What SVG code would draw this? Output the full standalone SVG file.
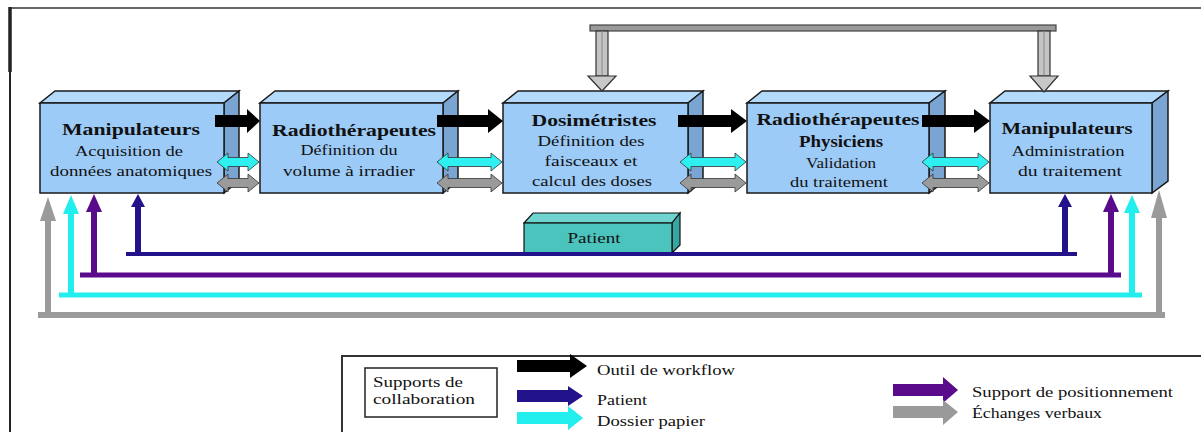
<svg xmlns="http://www.w3.org/2000/svg" width="1201" height="432" viewBox="0 0 1201 432">
<style>
  .front{fill:#9dcbf7;stroke:#1a1a1a;stroke-width:1.5}
  .top{fill:#b3d9fb;stroke:#1a1a1a;stroke-width:1.5}
  .side{fill:#7aa5d3;stroke:#1a1a1a;stroke-width:1.5}
  .t{font-family:"Liberation Serif","Times New Roman",serif;font-size:15px;fill:#111;text-anchor:middle}
  .b{font-weight:bold;font-size:16px}
  .lg{font-family:"Liberation Serif","Times New Roman",serif;font-size:15px;fill:#111}
  .blk{fill:#000}
  .cy{fill:#2ef0f0;stroke:#333;stroke-width:0.8}
  .gr{fill:#9a9a9a;stroke:#333;stroke-width:0.8}
</style>
<rect width="1201" height="432" fill="#fff"/>
<!-- frame -->
<line x1="10" y1="8" x2="1201" y2="8" stroke="#666" stroke-width="2"/>
<line x1="10" y1="8" x2="10" y2="432" stroke="#222" stroke-width="2"/>
<line x1="10" y1="7" x2="10" y2="72" stroke="#222" stroke-width="3.5"/>

<g id="box1">
  <polygon class="top" points="40,103 224,103 239,91 55,91"/>
  <polygon class="side" points="224,103 239,91 239,181 224,193"/>
  <rect class="front" x="40" y="103" width="184" height="90"/>
  <text class="t b" x="131" y="135" textLength="138" lengthAdjust="spacingAndGlyphs">Manipulateurs</text>
  <text class="t" x="129" y="156" textLength="108" lengthAdjust="spacingAndGlyphs">Acquisition de</text>
  <text class="t" x="131" y="176" textLength="162" lengthAdjust="spacingAndGlyphs">données anatomiques</text>
</g>
<g id="box2">
  <polygon class="top" points="260,103 443,103 458,91 275,91"/>
  <polygon class="side" points="443,103 458,91 458,181 443,193"/>
  <rect class="front" x="260" y="103" width="183" height="90"/>
  <text class="t b" x="354" y="136" textLength="164" lengthAdjust="spacingAndGlyphs">Radiothérapeutes</text>
  <text class="t" x="349" y="155" textLength="97" lengthAdjust="spacingAndGlyphs">Définition du</text>
  <text class="t" x="349" y="176" textLength="132" lengthAdjust="spacingAndGlyphs">volume à irradier</text>
</g>
<g id="box3">
  <polygon class="top" points="503,103 688,103 703,91 518,91"/>
  <polygon class="side" points="688,103 703,91 703,181 688,193"/>
  <rect class="front" x="503" y="103" width="185" height="90"/>
  <text class="t b" x="594" y="126" textLength="125" lengthAdjust="spacingAndGlyphs">Dosimétristes</text>
  <text class="t" x="591" y="146" textLength="107" lengthAdjust="spacingAndGlyphs">Définition des</text>
  <text class="t" x="591" y="166" textLength="93" lengthAdjust="spacingAndGlyphs">faisceaux et</text>
  <text class="t" x="592" y="186" textLength="120" lengthAdjust="spacingAndGlyphs">calcul des doses</text>
</g>
<g id="box4">
  <polygon class="top" points="747,103 929,103 945,91 762,91"/>
  <polygon class="side" points="929,103 945,91 945,181 929,193"/>
  <rect class="front" x="747" y="103" width="182" height="90"/>
  <text class="t b" x="838" y="125" textLength="163" lengthAdjust="spacingAndGlyphs">Radiothérapeutes</text>
  <text class="t b" x="841" y="147" textLength="84" lengthAdjust="spacingAndGlyphs">Physiciens</text>
  <text class="t" x="841" y="168" textLength="70" lengthAdjust="spacingAndGlyphs">Validation</text>
  <text class="t" x="839" y="187" textLength="98" lengthAdjust="spacingAndGlyphs">du traitement</text>
</g>
<g id="box5">
  <polygon class="top" points="990,103 1152,103 1168,91 1005,91"/>
  <polygon class="side" points="1152,103 1168,91 1168,181 1152,193"/>
  <rect class="front" x="990" y="103" width="162" height="90"/>
  <text class="t b" x="1067" y="134" textLength="131" lengthAdjust="spacingAndGlyphs">Manipulateurs</text>
  <text class="t" x="1068" y="156" textLength="113" lengthAdjust="spacingAndGlyphs">Administration</text>
  <text class="t" x="1070" y="176" textLength="104" lengthAdjust="spacingAndGlyphs">du traitement</text>
</g>
<g id="patient">
  <polygon points="524,223 672,223 680,213 533,213" fill="#6fd3cf" stroke="#111" stroke-width="1.2"/>
  <polygon points="672,223 680,213 680,245 672,253" fill="#35a6a2" stroke="#111" stroke-width="1.2"/>
  <rect x="524" y="223" width="148" height="30" fill="#4cc4be" stroke="#111" stroke-width="1.2"/>
  <text class="t" x="594" y="243" textLength="53" lengthAdjust="spacingAndGlyphs">Patient</text>
</g>

<g id="connectors">
  <!-- workflow black arrows -->
  <path class="blk" d="M215,115 H247 V109 L260,121 L247,133 V127 H215 Z"/>
  <path class="blk" d="M437,115 H488 V109 L503,121 L488,133 V127 H437 Z"/>
  <path class="blk" d="M678,115 H731 V109 L747,121 L731,133 V127 H678 Z"/>
  <path class="blk" d="M922,115 H974 V109 L990,121 L974,133 V127 H922 Z"/>
  <!-- cyan double arrows -->
  <path class="cy" d="M217,162 L228,153 V157.5 H248 V153 L259,162 L248,171 V166.5 H228 V171 Z"/>
  <path class="cy" d="M437,162 L448,153 V157.5 H491 V153 L502,162 L491,171 V166.5 H448 V171 Z"/>
  <path class="cy" d="M680,162 L691,153 V157.5 H735 V153 L746,162 L735,171 V166.5 H691 V171 Z"/>
  <path class="cy" d="M922,162 L933,153 V157.5 H978 V153 L989,162 L978,171 V166.5 H933 V171 Z"/>
  <!-- gray double arrows -->
  <path class="gr" d="M217,183 L228,174 V178.5 H248 V174 L259,183 L248,192 V187.5 H228 V192 Z"/>
  <path class="gr" d="M437,183 L448,174 V178.5 H491 V174 L502,183 L491,192 V187.5 H448 V192 Z"/>
  <path class="gr" d="M680,183 L691,174 V178.5 H735 V174 L746,183 L735,192 V187.5 H691 V192 Z"/>
  <path class="gr" d="M922,183 L933,174 V178.5 H978 V174 L989,183 L978,192 V187.5 H933 V192 Z"/>
  <!-- top gray verbal exchange -->
  <rect x="590" y="25" width="466" height="6" fill="#9a9a9a" stroke="#444" stroke-width="1.2"/>
  <rect x="596" y="31" width="12" height="45" fill="#c4c4c4" stroke="#333" stroke-width="1.2"/>
  <line x1="602" y1="31" x2="602" y2="76" stroke="#888" stroke-width="1"/>
  <polygon points="588,76 616,76 602,91" fill="#c8c8c8" stroke="#333" stroke-width="1.2"/>
  <rect x="1038" y="31" width="12" height="45" fill="#c4c4c4" stroke="#333" stroke-width="1.2"/>
  <line x1="1044" y1="31" x2="1044" y2="76" stroke="#888" stroke-width="1"/>
  <polygon points="1030,76 1058,76 1044,92" fill="#c8c8c8" stroke="#333" stroke-width="1.2"/>
  <!-- gray bottom -->
  <g fill="#9a9a9a">
    <rect x="38" y="312" width="1127" height="6"/>
    <rect x="45" y="220" width="6" height="98"/>
    <polygon points="40,221 56,221 48,197"/>
    <rect x="1156" y="217" width="6" height="101"/>
    <polygon points="1151,218 1167,218 1159,190"/>
  </g>
  <!-- cyan bottom -->
  <g fill="#22eeee">
    <rect x="59" y="292.5" width="1083" height="5"/>
    <rect x="68" y="212" width="6" height="85"/>
    <polygon points="63,214 79,214 71,195"/>
    <rect x="1129" y="212" width="6" height="85"/>
    <polygon points="1124,213 1140,213 1132,195"/>
  </g>
  <!-- purple bottom -->
  <g fill="#5a0b8c">
    <rect x="80" y="272.5" width="1041" height="5"/>
    <rect x="91" y="211" width="6" height="66"/>
    <polygon points="86,212 102,212 94,194"/>
    <rect x="1108" y="211" width="6" height="66"/>
    <polygon points="1103,212 1119,212 1111,194"/>
  </g>
  <!-- navy bottom -->
  <g fill="#22138a">
    <rect x="126" y="252" width="951" height="4"/>
    <rect x="135" y="206" width="6" height="50"/>
    <polygon points="131,207 145,207 138,194"/>
    <rect x="1062" y="206" width="6" height="50"/>
    <polygon points="1058,207 1072,207 1065,194"/>
  </g>
</g>

<g id="legend">
  <rect x="342" y="356" width="900" height="100" fill="#fff" stroke="#333" stroke-width="2"/>
  <rect x="365" y="368" width="132" height="49" fill="#fff" stroke="#222" stroke-width="1.5"/>
  <text class="lg" x="373" y="387" textLength="90" lengthAdjust="spacingAndGlyphs">Supports de</text>
  <text class="lg" x="373" y="404" textLength="102" lengthAdjust="spacingAndGlyphs">collaboration</text>
  <path fill="#000" d="M517,360 H570 V354 L587,366 L570,378 V372 H517 Z"/>
  <text class="lg" x="597" y="375" textLength="138" lengthAdjust="spacingAndGlyphs">Outil de workflow</text>
  <path fill="#22138a" d="M517,390 H568 V386 L583,396 L568,406 V402 H517 Z"/>
  <text class="lg" x="597" y="405" textLength="50" lengthAdjust="spacingAndGlyphs">Patient</text>
  <path fill="#22eeee" d="M517,412 H568 V406 L583,418 L568,430 V424 H517 Z"/>
  <text class="lg" x="597" y="426" textLength="108" lengthAdjust="spacingAndGlyphs">Dossier papier</text>
  <path fill="#5a0b8c" d="M893,384 H943 V377 L958,390 L943,403 V396 H893 Z"/>
  <text class="lg" x="972" y="397" textLength="201" lengthAdjust="spacingAndGlyphs">Support de positionnement</text>
  <path fill="#9a9a9a" d="M893,406 H943 V400 L958,412 L943,425 V418 H893 Z"/>
  <text class="lg" x="972" y="418" textLength="130" lengthAdjust="spacingAndGlyphs">Échanges verbaux</text>
</g>
</svg>
